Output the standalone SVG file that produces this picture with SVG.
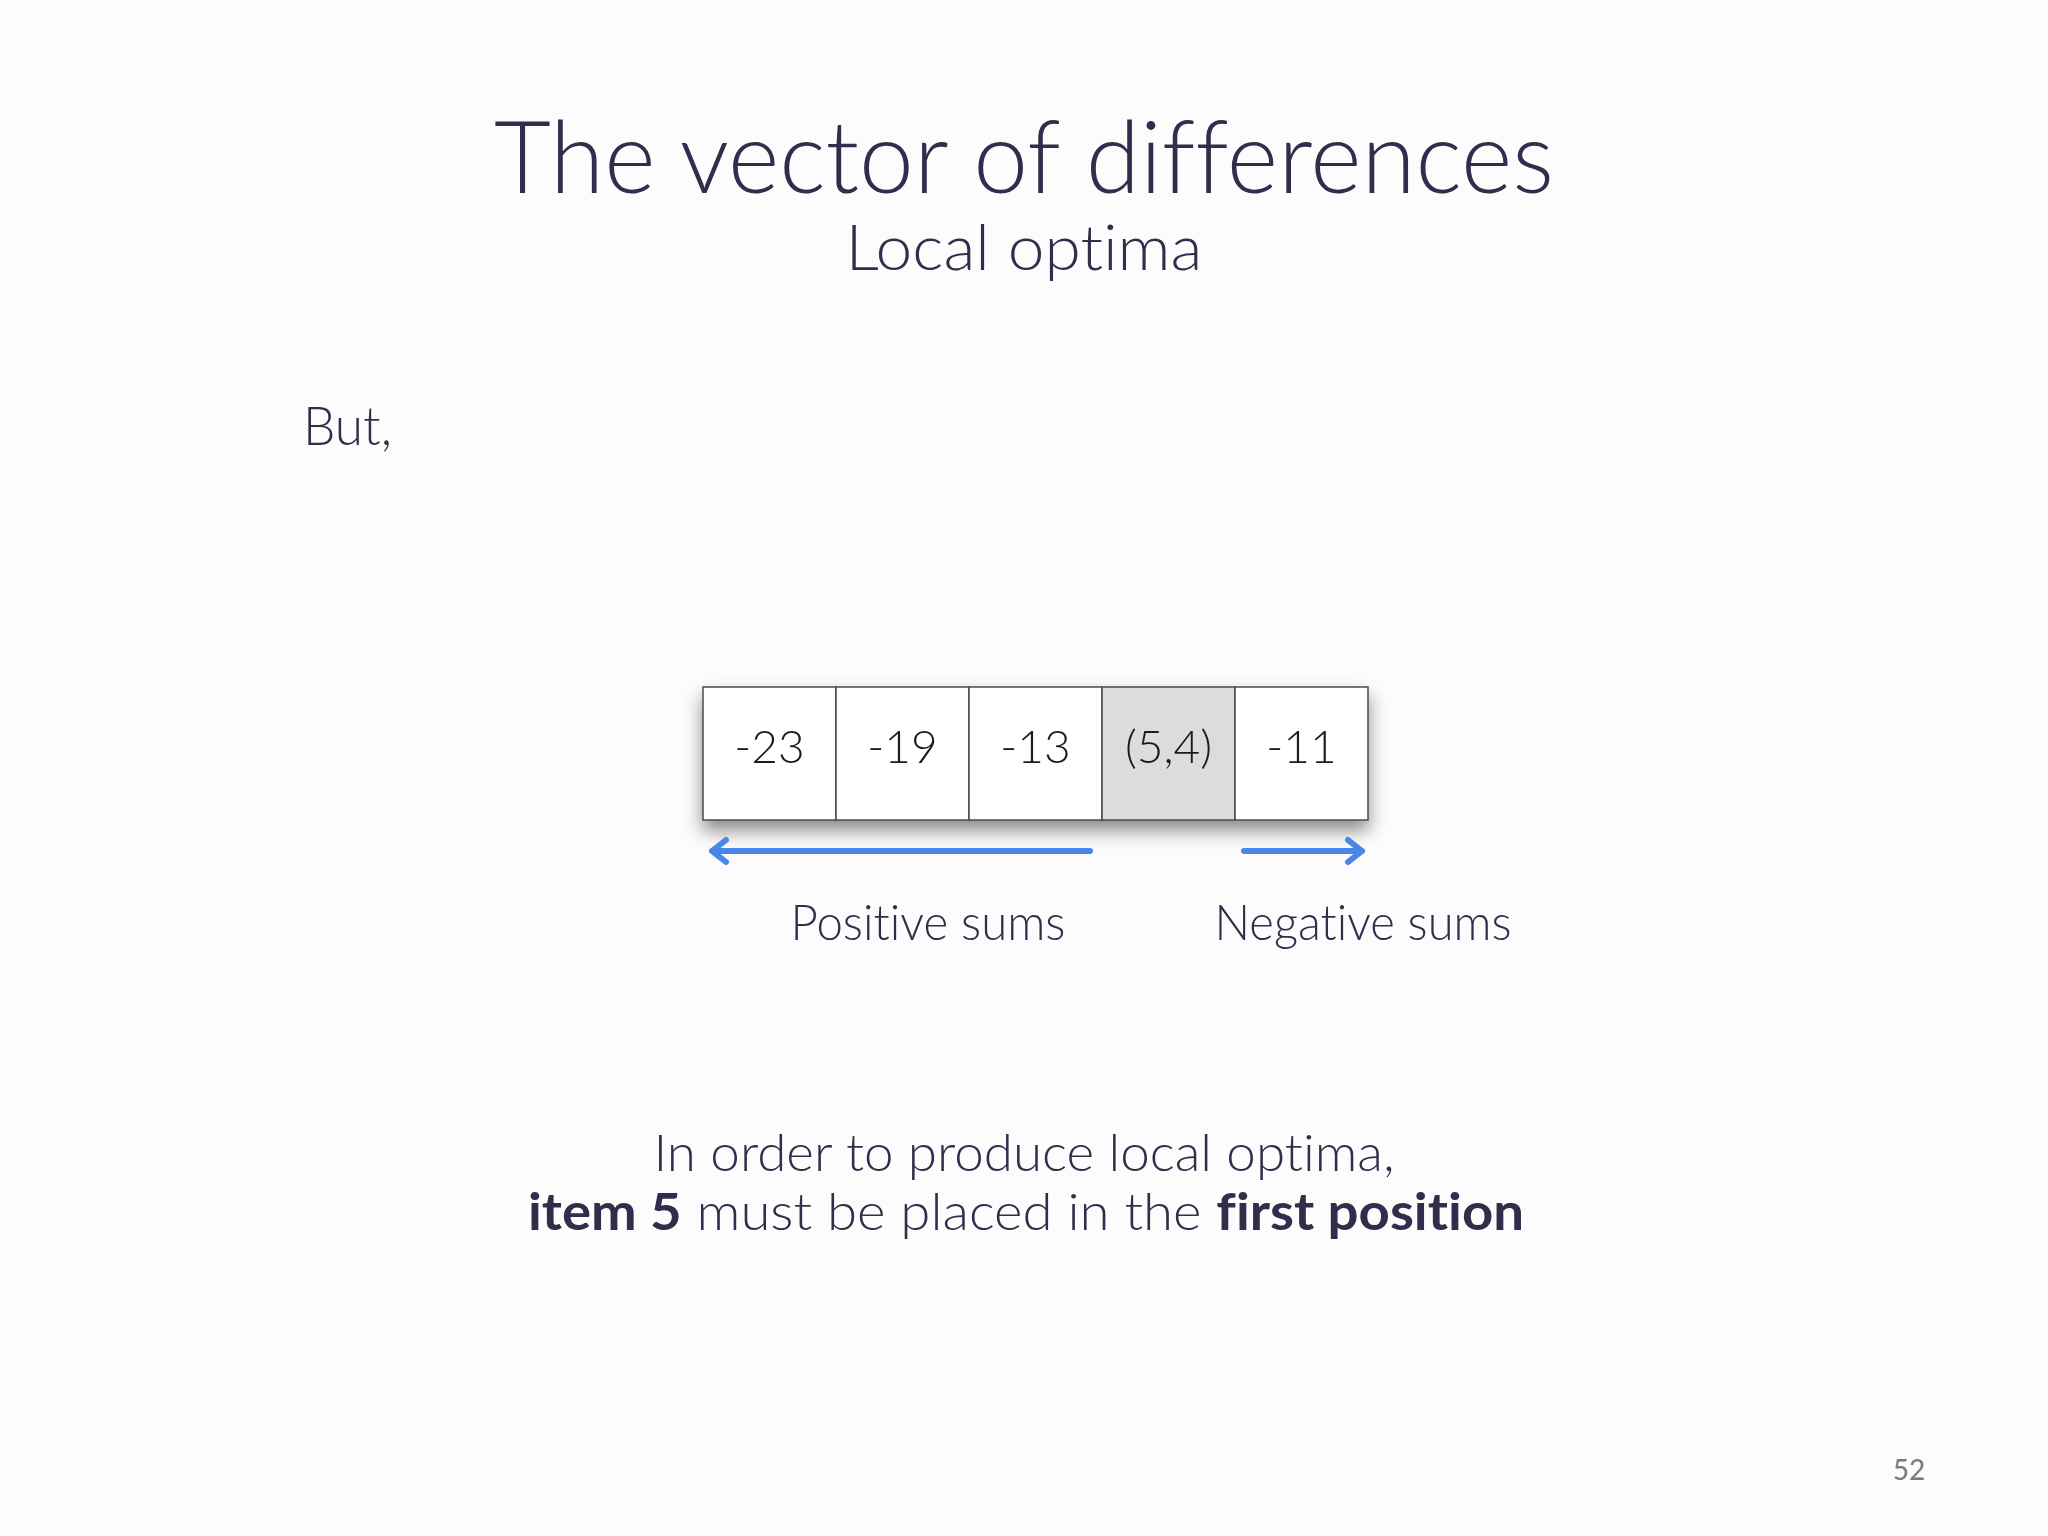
<svg xmlns="http://www.w3.org/2000/svg" width="2048" height="1536" viewBox="0 0 2048 1536">
<defs>
<style>
text{font-family:Lato,"Open Sans","Liberation Sans",sans-serif;fill:#352c4b;font-weight:300;font-variant-ligatures:none}
.cell{fill:#ffffff;stroke:#4a4a4a;stroke-width:1.5}
.sel{fill:#dcdbdd}
.num{font-size:46px;text-anchor:middle;fill:#1a1a1a}
.arr{stroke:#4a86e8;stroke-width:6;fill:none;stroke-linecap:round;stroke-linejoin:round}
.b{font-weight:700}
</style>
<filter id="sh" x="-10%" y="-20%" width="120%" height="160%">
<feDropShadow dx="0" dy="10" stdDeviation="9" flood-color="#000" flood-opacity="0.45"/>
</filter>
</defs>
<rect width="2048" height="1536" fill="#fdfcfd"/>
<text x="1024" y="193" font-size="100" text-anchor="middle" textLength="1060" lengthAdjust="spacingAndGlyphs">The vector of differences</text>
<text x="1024" y="270" font-size="64" text-anchor="middle" textLength="357" lengthAdjust="spacingAndGlyphs">Local optima</text>
<text x="303" y="445" font-size="54" textLength="89" lengthAdjust="spacingAndGlyphs">But,</text>
<g id="array" filter="url(#sh)">
<g id="c1"><rect class="cell" x="703" y="687" width="133" height="133"/><text class="num" x="769.5" y="763">-23</text></g>
<g id="c2"><rect class="cell" x="836" y="687" width="133" height="133"/><text class="num" x="902.5" y="763">-19</text></g>
<g id="c3"><rect class="cell" x="969" y="687" width="133" height="133"/><text class="num" x="1035.5" y="763">-13</text></g>
<g id="c4"><rect class="cell sel" x="1102" y="687" width="133" height="133"/><text class="num" x="1168.5" y="763">(5,4)</text></g>
<g id="c5"><rect class="cell" x="1235" y="687" width="133" height="133"/><text class="num" x="1301.5" y="763">-11</text></g>
</g>
<g id="connectors">
<path class="arr" d="M1090 851 H712 M726 840 L712 851 L726 862"/>
<path class="arr" d="M1244 851 H1362 M1348 840 L1362 851 L1348 862"/>
</g>
<text x="928" y="940" font-size="50" text-anchor="middle" textLength="275" lengthAdjust="spacingAndGlyphs">Positive sums</text>
<text x="1363" y="940" font-size="50" text-anchor="middle" textLength="297" lengthAdjust="spacingAndGlyphs">Negative sums</text>
<text x="1024" y="1171" font-size="52" text-anchor="middle" textLength="741" lengthAdjust="spacingAndGlyphs">In order to produce local optima,</text>
<text x="1026" y="1230" font-size="52" text-anchor="middle" textLength="996" lengthAdjust="spacingAndGlyphs"><tspan class="b">item 5</tspan> must be placed in the <tspan class="b">first position</tspan></text>
<text x="1909" y="1480" font-size="28" text-anchor="middle" style="fill:#7a7a7a;font-weight:400">52</text>
</svg>
